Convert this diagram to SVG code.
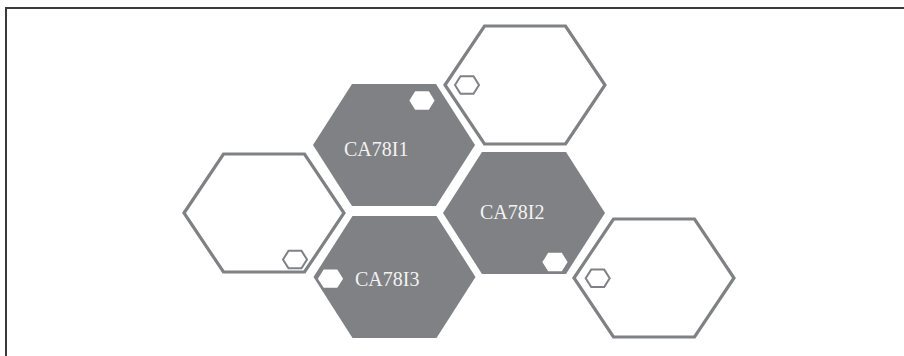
<svg xmlns="http://www.w3.org/2000/svg" xmlns:xlink="http://www.w3.org/1999/xlink" width="904" height="356" viewBox="0 0 904 356">
  <style>
    .fill { fill: #808184; }
    .outline { fill: #ffffff; stroke: #808184; stroke-width: 3.2; stroke-linejoin: miter; }
    .small-out { fill: #ffffff; stroke: #808184; stroke-width: 2; }
    .small-in { fill: #ffffff; }
    .label { font-family: "Liberation Serif", "Times New Roman", serif; font-size: 20px; fill: #f2f2f2; }
  </style>
  <defs>
    <polygon id="bigFill" points="-81,0 -42,-61 42,-61 81,0 42,61 -42,61"/>
    <polygon id="bigOut" points="-80,0 -40.5,-59 40.5,-59 80,0 40.5,59 -40.5,59"/>
    <polygon id="smallHex" points="-12,0 -6.5,-8.7 6.5,-8.7 12,0 6.5,8.7 -6.5,8.7"/>
  </defs>
  <rect x="0" y="0" width="904" height="356" fill="#ffffff"/>
  <rect x="6" y="8" width="920" height="370" fill="none" stroke="#3a3a3a" stroke-width="2"/>
  <g id="connectors"></g>
  <g id="hex-top">
    <use xlink:href="#bigOut" class="outline" transform="translate(525,85)"/>
    <use xlink:href="#smallHex" class="small-out" transform="translate(467,85)"/>
  </g>
  <g id="hex-left">
    <use xlink:href="#bigOut" class="outline" transform="translate(264,213)"/>
    <use xlink:href="#smallHex" class="small-out" transform="translate(295,259.5)"/>
  </g>
  <g id="hex-bottom-right">
    <use xlink:href="#bigOut" class="outline" transform="translate(654,278)"/>
    <use xlink:href="#smallHex" class="small-out" transform="translate(597.7,278.3)"/>
  </g>
  <g id="ca78i1">
    <use xlink:href="#bigFill" class="fill" transform="translate(394,145)"/>
    <use xlink:href="#smallHex" class="small-in" transform="translate(422,100.5) scale(1.05)"/>
    <text class="label" x="344" y="156">CA78I1</text>
  </g>
  <g id="ca78i2">
    <use xlink:href="#bigFill" class="fill" transform="translate(524,213)"/>
    <use xlink:href="#smallHex" class="small-in" transform="translate(555,262) scale(1.05)"/>
    <text class="label" x="480" y="219">CA78I2</text>
  </g>
  <g id="ca78i3">
    <use xlink:href="#bigFill" class="fill" transform="translate(394.5,277)"/>
    <use xlink:href="#smallHex" class="small-in" transform="translate(330.5,278.7) scale(1.05)"/>
    <text class="label" x="355" y="286">CA78I3</text>
  </g>
</svg>
